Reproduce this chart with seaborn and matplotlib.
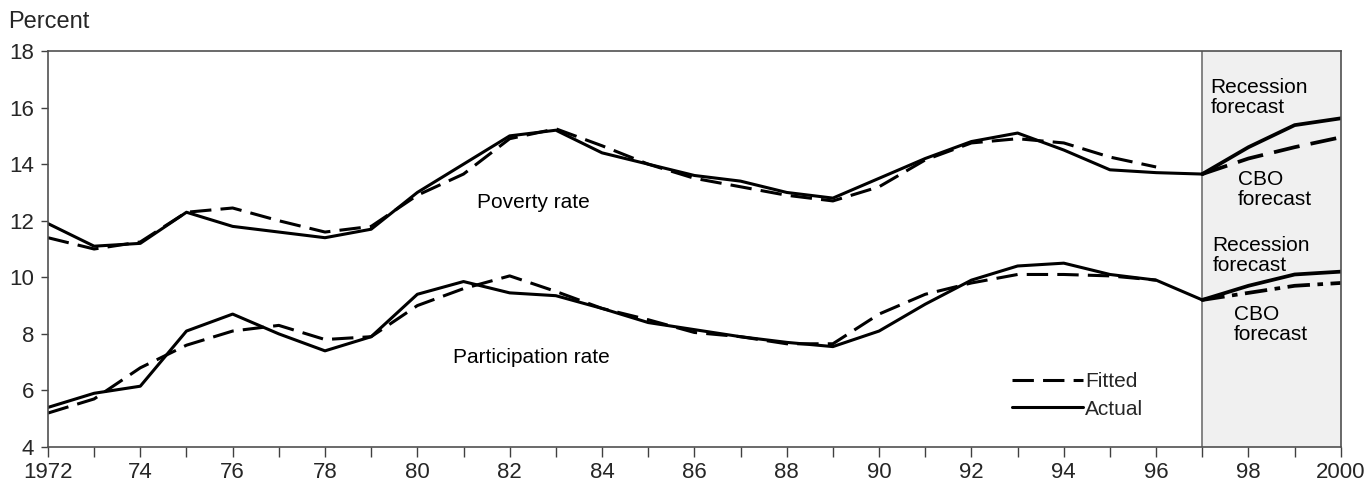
import matplotlib
matplotlib.use("Agg")
import matplotlib.pyplot as plt
from matplotlib.lines import Line2D
from matplotlib.ticker import MultipleLocator, FixedLocator
import seaborn as sns
import pandas as pd

# ---- data ----
years_hist = list(range(1972, 1998))   # actual series 1972-1997
years_fit = list(range(1972, 1997))    # fitted series 1972-1996
years_fc = [1997, 1998, 1999, 2000]    # forecast period

poverty_actual = [11.9, 11.1, 11.2, 12.3, 11.8, 11.6, 11.4, 11.7, 13.0, 14.0,
                  15.0, 15.2, 14.4, 14.0, 13.6, 13.4, 13.0, 12.8, 13.5, 14.2,
                  14.8, 15.1, 14.5, 13.8, 13.7, 13.65]
poverty_fitted = [11.4, 11.0, 11.25, 12.3, 12.45, 12.0, 11.6, 11.8, 12.9, 13.65,
                  14.9, 15.25, 14.65, 14.0, 13.5, 13.2, 12.9, 12.7, 13.2, 14.15,
                  14.75, 14.9, 14.75, 14.25, 13.9]
poverty_recession = [13.65, 14.6, 15.38, 15.62]
poverty_cbo = [13.65, 14.2, 14.6, 14.95]

particip_actual = [5.4, 5.9, 6.15, 8.1, 8.7, 8.0, 7.4, 7.9, 9.4, 9.85,
                   9.45, 9.35, 8.9, 8.4, 8.15, 7.9, 7.7, 7.55, 8.1, 9.05,
                   9.9, 10.4, 10.5, 10.1, 9.9, 9.2]
particip_fitted = [5.2, 5.7, 6.8, 7.6, 8.1, 8.3, 7.8, 7.9, 9.0, 9.6,
                   10.05, 9.5, 8.9, 8.5, 8.05, 7.9, 7.65, 7.65, 8.7, 9.4,
                   9.8, 10.1, 10.1, 10.05, 9.9]
particip_recession = [9.2, 9.7, 10.1, 10.2]
particip_cbo = [9.2, 9.45, 9.7, 9.8]

xtick_years = list(range(1972, 2001, 2))
xtick_labels = ["1972"] + [str(y)[2:] for y in xtick_years[1:-1]] + ["2000"]

sns.set_theme(style="white")
plt.rcParams["font.family"] = ["Liberation Sans", "DejaVu Sans"]

fig = plt.figure(figsize=(13.7, 4.84), dpi=100)
ax = fig.add_axes([0.035, 0.0764, 0.9437, 0.8182])

# shaded forecast period
ax.axvspan(1997, 2000, color="#f0f0f0", zorder=0, lw=0)
ax.axvline(1997, color="#707070", lw=1.2, zorder=1)

dash = (0, (7, 3))
dashdot = (0, (6, 2, 1.5, 2))

# historical lines
sns.lineplot(x=years_hist, y=poverty_actual, ax=ax, color="black", lw=2.2)
sns.lineplot(x=years_fit, y=poverty_fitted, ax=ax, color="black", lw=2.2, linestyle=dash)
sns.lineplot(x=years_hist, y=particip_actual, ax=ax, color="black", lw=2.2)
sns.lineplot(x=years_fit, y=particip_fitted, ax=ax, color="black", lw=2.2, linestyle=dash)

# forecasts
sns.lineplot(x=years_fc, y=poverty_recession, ax=ax, color="black", lw=2.7)
sns.lineplot(x=years_fc, y=poverty_cbo, ax=ax, color="black", lw=2.7, linestyle=dash)
sns.lineplot(x=years_fc, y=particip_recession, ax=ax, color="black", lw=2.7)
sns.lineplot(x=years_fc, y=particip_cbo, ax=ax, color="black", lw=2.7, linestyle=dashdot)

ax.set_xlim(1972, 2000)
ax.set_ylim(4, 18)
ax.xaxis.set_major_locator(FixedLocator(xtick_years))
ax.set_xticklabels(xtick_labels)
ax.xaxis.set_minor_locator(MultipleLocator(1))
ax.yaxis.set_major_locator(MultipleLocator(2))
ax.tick_params(axis="x", which="both", direction="out", length=7, width=1,
               color="#404040", labelsize=16, pad=4, bottom=True)
ax.tick_params(axis="y", direction="out", length=5, width=1,
               color="#404040", labelsize=16, pad=5, left=True)
ax.set_xlabel("")
ax.set_ylabel("")
for s in ax.spines.values():
    s.set_color("#505050")
    s.set_linewidth(1.2)
    s.set_visible(True)

# text annotations
txt = dict(fontsize=15, color="black", linespacing=1.05)
ax.text(1981.3, 12.63, "Poverty rate", va="center", ha="left", **txt)
ax.text(1980.78, 7.15, "Participation rate", va="center", ha="left", **txt)
ax.text(1997.18, 17.05, "Recession\nforecast", va="top", ha="left", **txt)
ax.text(1997.77, 13.8, "CBO\nforecast", va="top", ha="left", **txt)
ax.text(1997.22, 11.46, "Recession\nforecast", va="top", ha="left", **txt)
ax.text(1997.68, 9.02, "CBO\nforecast", va="top", ha="left", **txt)

fig.text(0.0058, 0.942, "Percent", fontsize=17, va="baseline", ha="left")

# legend
handles = [Line2D([], [], color="black", lw=2.2, linestyle=dash),
           Line2D([], [], color="black", lw=2.2)]
ax.legend(handles, ["Fitted", "Actual"], loc="upper left",
          bbox_to_anchor=(1992.88, 6.64), bbox_transform=ax.transData,
          frameon=False, fontsize=15, handlelength=3.4, handletextpad=0.1,
          borderpad=0, borderaxespad=0, labelspacing=0.4)

fig.savefig("out.png", dpi=100)
